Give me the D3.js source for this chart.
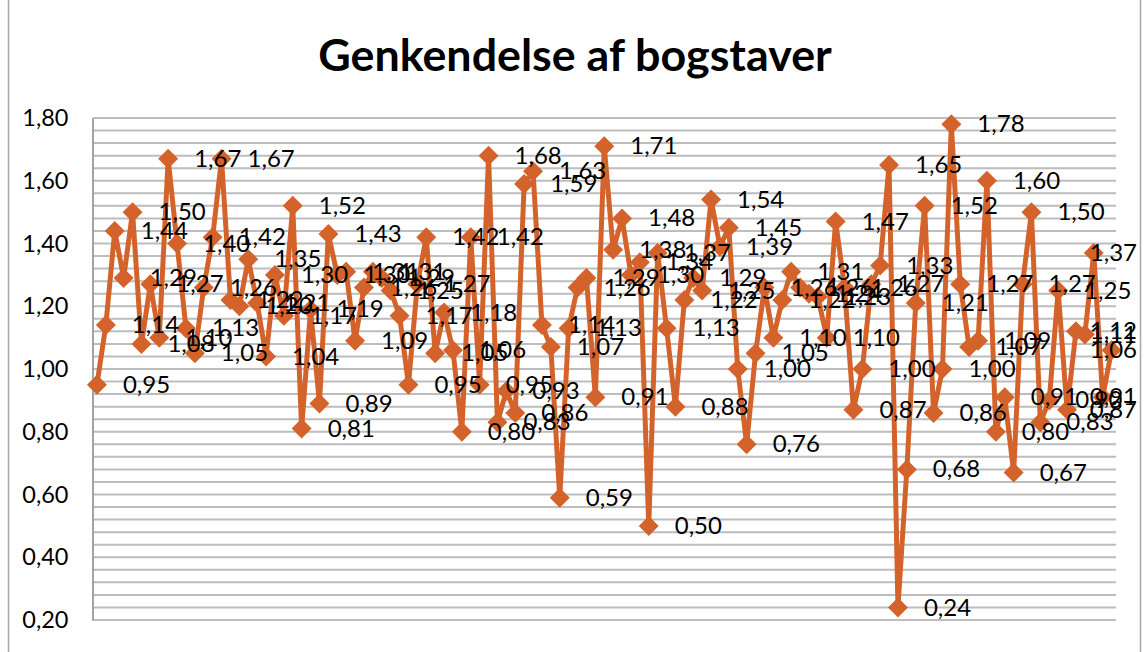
<!DOCTYPE html>
<html>
<head>
<meta charset="utf-8">
<script src="https://cdnjs.cloudflare.com/ajax/libs/d3/7.8.5/d3.min.js"></script>
<style>
  body { margin: 0; background: #fff; }
  svg { display: block; }
</style>
</head>
<body>
<svg></svg>
<script>
var title = "Genkendelse af bogstaver";

var values = [
  0.95, 1.14, 1.44, 1.29, 1.50, 1.08, 1.27, 1.10, 1.67, 1.40,
  1.13, 1.05, 1.26, 1.42, 1.67, 1.22, 1.20, 1.35, 1.21, 1.04,
  1.30, 1.17, 1.52, 0.81, 1.19, 0.89, 1.43, 1.30, 1.31, 1.09,
  1.26, 1.31, 1.29, 1.25, 1.17, 0.95, 1.27, 1.42, 1.05, 1.18,
  1.06, 0.80, 1.42, 0.95, 1.68, 0.83, 0.93, 0.86, 1.59, 1.63,
  1.14, 1.07, 0.59, 1.13, 1.26, 1.29, 0.91, 1.71, 1.38, 1.48,
  1.30, 1.34, 0.50, 1.37, 1.13, 0.88, 1.22, 1.29, 1.25, 1.54,
  1.39, 1.45, 1.00, 0.76, 1.05, 1.26, 1.10, 1.22, 1.31, 1.26,
  1.24, 1.23, 1.10, 1.47, 1.26, 0.87, 1.00, 1.27, 1.33, 1.65,
  0.24, 0.68, 1.21, 1.52, 0.86, 1.00, 1.78, 1.27, 1.07, 1.09,
  1.60, 0.80, 0.91, 0.67, 1.27, 1.50, 0.83, 0.90, 1.25, 0.87,
  1.12, 1.11, 1.37, 0.91, 1.06
];

// category positions along the x axis (no labels are visible)
var categories = values.map(function(d, i) { return i + 1; });

var yTicks = [0.2, 0.4, 0.6, 0.8, 1.0, 1.2, 1.4, 1.6, 1.8];
var yMinorStep = 0.04;

var width = 1147;
var height = 652;
var plotLeft = 92.5, plotRight = 1116, plotTop = 118, plotBottom = 620;
var orange = "#d4632b";

var fmt = function(v) { return d3.format(".2f")(v).replace(".", ","); };

var svg = d3.select("svg")
            .attr("width", width)
            .attr("height", height)
            .style("font-family", "Lato, 'Open Sans', sans-serif");

svg.append("rect")
   .attr("x", 0).attr("y", 0)
   .attr("width", width).attr("height", height)
   .attr("fill", "#fff");

// chart area border
svg.append("rect")
   .attr("x", 8.5).attr("y", -10)
   .attr("width", 1132).attr("height", height + 20)
   .attr("fill", "none")
   .attr("stroke", "#a6a6a6")
   .attr("stroke-width", 1.5);

var x = d3.scaleBand()
          .domain(categories)
          .range([plotLeft, plotRight]);

var y = d3.scaleLinear()
          .domain([0.2, 1.8])
          .range([plotBottom, plotTop]);

var gridVals = d3.range(0, Math.round((1.8 - 0.2) / yMinorStep) + 1)
                 .map(function(k) { return 0.2 + k * yMinorStep; });

svg.append("g")
   .selectAll("line")
   .data(gridVals)
   .enter()
   .append("line")
   .attr("x1", plotLeft)
   .attr("x2", plotRight)
   .attr("y1", function(d) { return y(d); })
   .attr("y2", function(d) { return y(d); })
   .attr("stroke", "#bdbdbd")
   .attr("stroke-width", 2);

var yAxis = d3.axisLeft(y)
              .tickValues(yTicks)
              .tickFormat(fmt)
              .tickSize(0)
              .tickPadding(24);

var ga = svg.append("g")
            .attr("transform", "translate(" + plotLeft + ",0)")
            .call(yAxis);
ga.select(".domain")
  .attr("stroke", "#9a9a9a")
  .attr("stroke-width", 1.8);
ga.selectAll("text")
  .attr("font-size", "23.5px")
  .attr("fill", "#000")
  .attr("font-family", "Lato, 'Open Sans', sans-serif");

var cx = function(d, i) { return x(categories[i]) + x.bandwidth() / 2; };

var line = d3.line()
             .x(function(d, i) { return cx(d, i); })
             .y(function(d) { return y(d); });

svg.append("path")
   .datum(values)
   .attr("d", line)
   .attr("fill", "none")
   .attr("stroke", orange)
   .attr("stroke-width", 5)
   .attr("stroke-linejoin", "round");

var m = 10;
svg.append("g")
   .selectAll("path")
   .data(values)
   .enter()
   .append("path")
   .attr("d", function(d, i) {
     var px = cx(d, i), py = y(d);
     return "M" + px + "," + (py - m) + "L" + (px + m) + "," + py +
            "L" + px + "," + (py + m) + "L" + (px - m) + "," + py + "Z";
   })
   .attr("fill", orange);

var labels = svg.append("g")
   .selectAll("text")
   .data(values)
   .enter()
   .append("text")
   .text(function(d) { return fmt(d); })
   .attr("x", function(d, i) { return cx(d, i) + 26; })
   .attr("y", function(d) { return y(d) + 2; })
   .attr("dominant-baseline", "middle")
   .attr("font-size", "24px")
   .attr("fill", "#000");

// keep labels inside the chart area like the spreadsheet does
labels.each(function() {
  var t = d3.select(this);
  var w = this.getComputedTextLength();
  var lx = +t.attr("x");
  if (lx + w > 1137) t.attr("x", 1137 - w);
});

var tt = svg.append("text")
   .text(title)
   .attr("x", 575)
   .attr("y", 71)
   .attr("text-anchor", "middle")
   .attr("font-weight", "bold")
   .attr("font-size", "40px")
   .attr("fill", "#000");
var tw = tt.node().getComputedTextLength();
tt.attr("font-size", (40 * 514 / tw).toFixed(1) + "px");
</script>
</body>
</html>
